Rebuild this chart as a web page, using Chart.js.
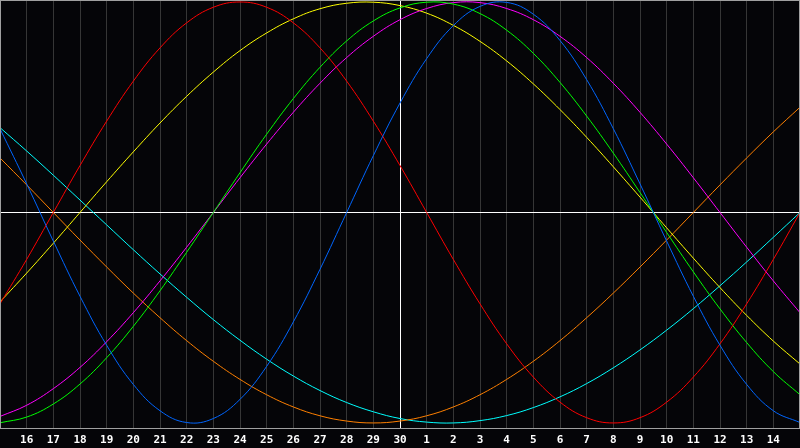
<!DOCTYPE html>
<html>
<head>
<title>Biorhythm</title>
<script src="https://cdn.jsdelivr.net/npm/chart.js"></script>
<style>
  html, body { margin: 0; padding: 0; background: #050508; }
  canvas { display: block; }
</style>
</head>
<body>
<canvas id="bioChart" width="800" height="448"></canvas>
<script>
// day labels, index 0 and 30 are the 15th (unlabelled edges), index 15 = today (30)
const xLabels = ['', '16', '17', '18', '19', '20', '21', '22', '23', '24', '25', '26', '27', '28', '29', '30',
                 '1', '2', '3', '4', '5', '6', '7', '8', '9', '10', '11', '12', '13', '14', ''];
const todayIndex = 15;

// 23 days
const physical = [0.398, 0.136, -0.136, -0.398, -0.631, -0.817, -0.942, -0.998, -0.979, -0.888, -0.731,
  -0.520, -0.270, 0, 0.270, 0.520, 0.731, 0.888, 0.979, 0.998, 0.942, 0.817, 0.631, 0.398, 0.136,
  -0.136, -0.398, -0.631, -0.817, -0.942, -0.998];
// 28 days
const emotional = [-0.434, -0.223, 0, 0.223, 0.434, 0.624, 0.782, 0.901, 0.975, 1.0, 0.975, 0.901,
  0.782, 0.624, 0.434, 0.223, 0, -0.223, -0.434, -0.624, -0.782, -0.901, -0.975, -1.0, -0.975,
  -0.901, -0.782, -0.624, -0.434, -0.223, 0];
// 33 days
const intellectual = [-0.999, -0.972, -0.910, -0.815, -0.690, -0.541, -0.372, -0.189, 0, 0.189, 0.372,
  0.541, 0.690, 0.815, 0.910, 0.972, 0.999, 0.990, 0.945, 0.866, 0.756, 0.618, 0.458, 0.282, 0.095,
  -0.095, -0.282, -0.458, -0.618, -0.756, -0.866];
// 38 days
const intuitive = [-0.969, -0.916, -0.837, -0.736, -0.614, -0.476, -0.325, -0.165, 0, 0.165, 0.325,
  0.476, 0.614, 0.736, 0.837, 0.916, 0.969, 0.997, 0.997, 0.969, 0.916, 0.837, 0.736, 0.614, 0.476,
  0.325, 0.165, 0, -0.165, -0.325, -0.476];
// 43 days
const aesthetic = [-0.425, -0.288, -0.146, 0, 0.146, 0.288, 0.425, 0.552, 0.667, 0.769, 0.853, 0.920,
  0.968, 0.994, 0.999, 0.983, 0.947, 0.889, 0.813, 0.720, 0.611, 0.489, 0.357, 0.217, 0.073,
  -0.073, -0.217, -0.357, -0.489, -0.611, -0.720];
// 48 days
const awareness = [0.259, 0.131, 0, -0.131, -0.259, -0.383, -0.5, -0.609, -0.707, -0.793, -0.866,
  -0.924, -0.966, -0.991, -1.0, -0.991, -0.966, -0.924, -0.866, -0.793, -0.707, -0.609, -0.5,
  -0.383, -0.259, -0.131, 0, 0.131, 0.259, 0.383, 0.5];
// 53 days
const spiritual = [0.403, 0.292, 0.177, 0.059, -0.059, -0.177, -0.292, -0.403, -0.509, -0.607, -0.697,
  -0.777, -0.846, -0.903, -0.947, -0.979, -0.996, -1.0, -0.989, -0.965, -0.927, -0.876, -0.813,
  -0.738, -0.653, -0.559, -0.457, -0.348, -0.235, -0.118, 0];

function line(label, data, color) {
    return { label: label, data: data, borderColor: color, borderWidth: 1, pointRadius: 0, tension: 0.4, fill: false };
}

// white zero line + today line, and grey frame
const framePlugin = {
    id: 'frame',
    beforeDatasetsDraw(chart) {
        const ctx = chart.ctx, a = chart.chartArea;
        const x = Math.round(chart.scales.x.getPixelForValue(todayIndex)) + 0.5;
        const y = Math.round(chart.scales.y.getPixelForValue(0)) + 0.5;
        ctx.save();
        ctx.strokeStyle = '#ffffff';
        ctx.lineWidth = 1;
        ctx.beginPath();
        ctx.moveTo(a.left, y); ctx.lineTo(a.right, y);
        ctx.moveTo(x, a.top); ctx.lineTo(x, a.bottom);
        ctx.stroke();
        ctx.restore();
    },
    afterDraw(chart) {
        const ctx = chart.ctx, a = chart.chartArea;
        ctx.save();
        ctx.strokeStyle = '#a0a0a0';
        ctx.lineWidth = 1;
        ctx.strokeRect(a.left + 0.5, a.top + 0.5, a.right - a.left - 1, a.bottom - a.top);
        ctx.restore();
    }
};

new Chart(document.getElementById('bioChart'), {
    type: 'line',
    data: {
        labels: xLabels,
        datasets: [
            line('Physical', physical, '#0066ff'),
            line('Emotional', emotional, '#ff0000'),
            line('Intellectual', intellectual, '#00ff00'),
            line('Intuitive', intuitive, '#ff00ff'),
            line('Aesthetic', aesthetic, '#ffff00'),
            line('Awareness', awareness, '#ff8000'),
            line('Spiritual', spiritual, '#00ffff')
        ]
    },
    options: {
        responsive: false,
        animation: false,
        layout: { padding: 0 },
        plugins: { legend: { display: false }, tooltip: { enabled: false } },
        scales: {
            x: {
                offset: false,
                grid: { color: '#363636', drawTicks: false },
                border: { display: false },
                ticks: {
                    color: '#ffffff',
                    autoSkip: false,
                    maxRotation: 0,
                    padding: 6,
                    font: { family: 'DejaVu Sans Mono', size: 11, weight: 'bold' }
                },
                afterFit(s) {
                    s.height = 20;
                    s.paddingLeft = 0;
                    s.paddingRight = 0;
                }
            },
            y: {
                display: false,
                min: -1.024,
                max: 1.0095
            }
        }
    },
    plugins: [framePlugin]
});
</script>
</body>
</html>
